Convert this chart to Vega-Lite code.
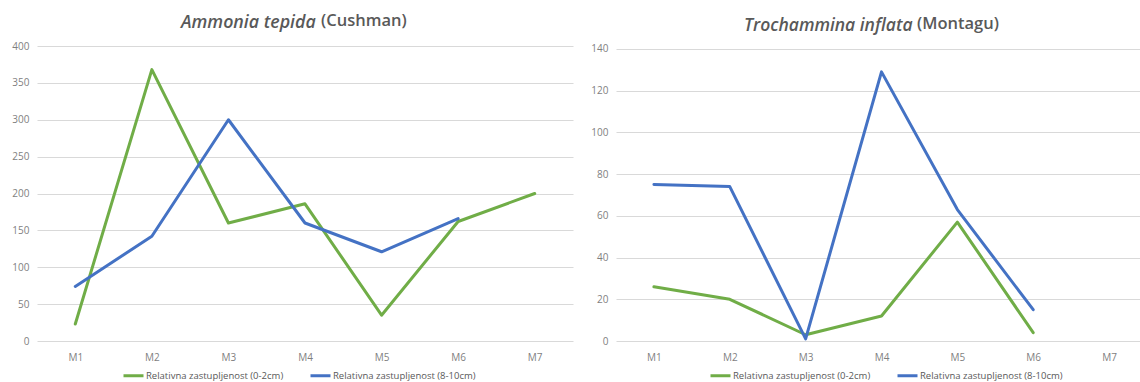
{
  "$schema": "https://vega.github.io/schema/vega-lite/v6.json",
  "padding": {"left": 0, "top": 12, "right": 0, "bottom": 0},
  "background": "white",
  "spacing": 13,
  "datasets": {
    "ammonia": [
      {"site": "M1", "series": "Relativna zastupljenost (0-2cm)", "value": 23},
      {"site": "M2", "series": "Relativna zastupljenost (0-2cm)", "value": 368},
      {"site": "M3", "series": "Relativna zastupljenost (0-2cm)", "value": 160},
      {"site": "M4", "series": "Relativna zastupljenost (0-2cm)", "value": 186},
      {"site": "M5", "series": "Relativna zastupljenost (0-2cm)", "value": 35},
      {"site": "M6", "series": "Relativna zastupljenost (0-2cm)", "value": 162},
      {"site": "M7", "series": "Relativna zastupljenost (0-2cm)", "value": 200},
      {"site": "M1", "series": "Relativna zastupljenost (8-10cm)", "value": 74},
      {"site": "M2", "series": "Relativna zastupljenost (8-10cm)", "value": 142},
      {"site": "M3", "series": "Relativna zastupljenost (8-10cm)", "value": 300},
      {"site": "M4", "series": "Relativna zastupljenost (8-10cm)", "value": 160},
      {"site": "M5", "series": "Relativna zastupljenost (8-10cm)", "value": 121},
      {"site": "M6", "series": "Relativna zastupljenost (8-10cm)", "value": 166}
    ],
    "trochammina": [
      {"site": "M1", "series": "Relativna zastupljenost (0-2cm)", "value": 26},
      {"site": "M2", "series": "Relativna zastupljenost (0-2cm)", "value": 20},
      {"site": "M3", "series": "Relativna zastupljenost (0-2cm)", "value": 3},
      {"site": "M4", "series": "Relativna zastupljenost (0-2cm)", "value": 12},
      {"site": "M5", "series": "Relativna zastupljenost (0-2cm)", "value": 57},
      {"site": "M6", "series": "Relativna zastupljenost (0-2cm)", "value": 4},
      {"site": "M1", "series": "Relativna zastupljenost (8-10cm)", "value": 75},
      {"site": "M2", "series": "Relativna zastupljenost (8-10cm)", "value": 74},
      {"site": "M3", "series": "Relativna zastupljenost (8-10cm)", "value": 1},
      {"site": "M4", "series": "Relativna zastupljenost (8-10cm)", "value": 129},
      {"site": "M5", "series": "Relativna zastupljenost (8-10cm)", "value": 63},
      {"site": "M6", "series": "Relativna zastupljenost (8-10cm)", "value": 15}
    ]
  },
  "hconcat": [
    {
      "title": {"text": "(Cushman)", "fontStyle": "normal", "anchor": "start", "frame": "group", "dx": 284, "offset": -15},
      "vconcat": [
        {
          "width": 536,
          "height": 295,
          "title": {"text": "Ammonia tepida", "fontStyle": "italic", "fontSize": 17.8, "anchor": "start", "frame": "group", "dx": 144, "offset": 9},
          "data": {"name": "ammonia"},
          "mark": {"type": "line", "strokeWidth": 3, "strokeJoin": "round", "strokeCap": "round"},
          "encoding": {
            "x": {"field": "site", "type": "nominal", "scale": {"type": "point", "padding": 0.5}, "axis": {"title": null}},
            "y": {"field": "value", "type": "quantitative", "scale": {"domain": [0, 400], "nice": false}, "axis": {"title": null, "values": [0, 50, 100, 150, 200, 250, 300, 350, 400], "minExtent": 37, "maxExtent": 37}},
            "color": {"field": "series", "type": "nominal", "scale": {"domain": ["Relativna zastupljenost (0-2cm)", "Relativna zastupljenost (8-10cm)"], "range": ["#70AD47", "#4472C4"]}, "legend": {"title": null, "orient": "none", "legendX": 85, "legendY": 318, "direction": "horizontal"}}
          }
        }
      ]
    },
    {
      "title": {"text": "(Montagu)", "fontStyle": "normal", "anchor": "start", "frame": "group", "dx": 301, "offset": -15},
      "vconcat": [
        {
          "width": 531,
          "height": 295,
          "title": {"text": "Trochammina inflata", "fontStyle": "italic", "fontSize": 17.5, "anchor": "start", "frame": "group", "dx": 128, "offset": 9},
          "data": {"name": "trochammina"},
          "mark": {"type": "line", "strokeWidth": 3, "strokeJoin": "round", "strokeCap": "round"},
          "encoding": {
            "x": {"field": "site", "type": "nominal", "scale": {"type": "point", "padding": 0.5, "domain": ["M1", "M2", "M3", "M4", "M5", "M6", "M7"]}, "axis": {"title": null}},
            "y": {"field": "value", "type": "quantitative", "scale": {"domain": [0, 141.4], "nice": false}, "axis": {"title": null, "values": [0, 20, 40, 60, 80, 100, 120, 140], "minExtent": 30, "maxExtent": 30}},
            "color": {"field": "series", "type": "nominal", "scale": {"domain": ["Relativna zastupljenost (0-2cm)", "Relativna zastupljenost (8-10cm)"], "range": ["#70AD47", "#4472C4"]}, "legend": {"title": null, "orient": "none", "legendX": 93, "legendY": 318, "direction": "horizontal"}}
          }
        }
      ]
    }
  ],
  "resolve": {"scale": {"y": "independent"}, "legend": {"color": "independent"}},
  "config": {
    "view": {"stroke": null},
    "font": "Open Sans",
    "title": {"fontSize": 16.5, "fontWeight": 600, "color": "#595959", "font": "Open Sans", "offset": 14},
    "axis": {"labelFont": "Open Sans", "labelFontSize": 10, "labelColor": "#7F7F7F", "domain": false, "ticks": false, "gridColor": "#D9D9D9", "gridWidth": 1, "labelPadding": 8},
    "axisX": {"grid": false, "labelAngle": 0, "labelPadding": 11},
    "axisY": {"grid": true},
    "legend": {"symbolType": "stroke", "symbolStrokeWidth": 3, "symbolSize": 400, "labelFont": "Open Sans", "labelFontSize": 9.5, "labelColor": "#595959", "columnPadding": 20, "labelOffset": 1, "labelLimit": 300}
  }
}
